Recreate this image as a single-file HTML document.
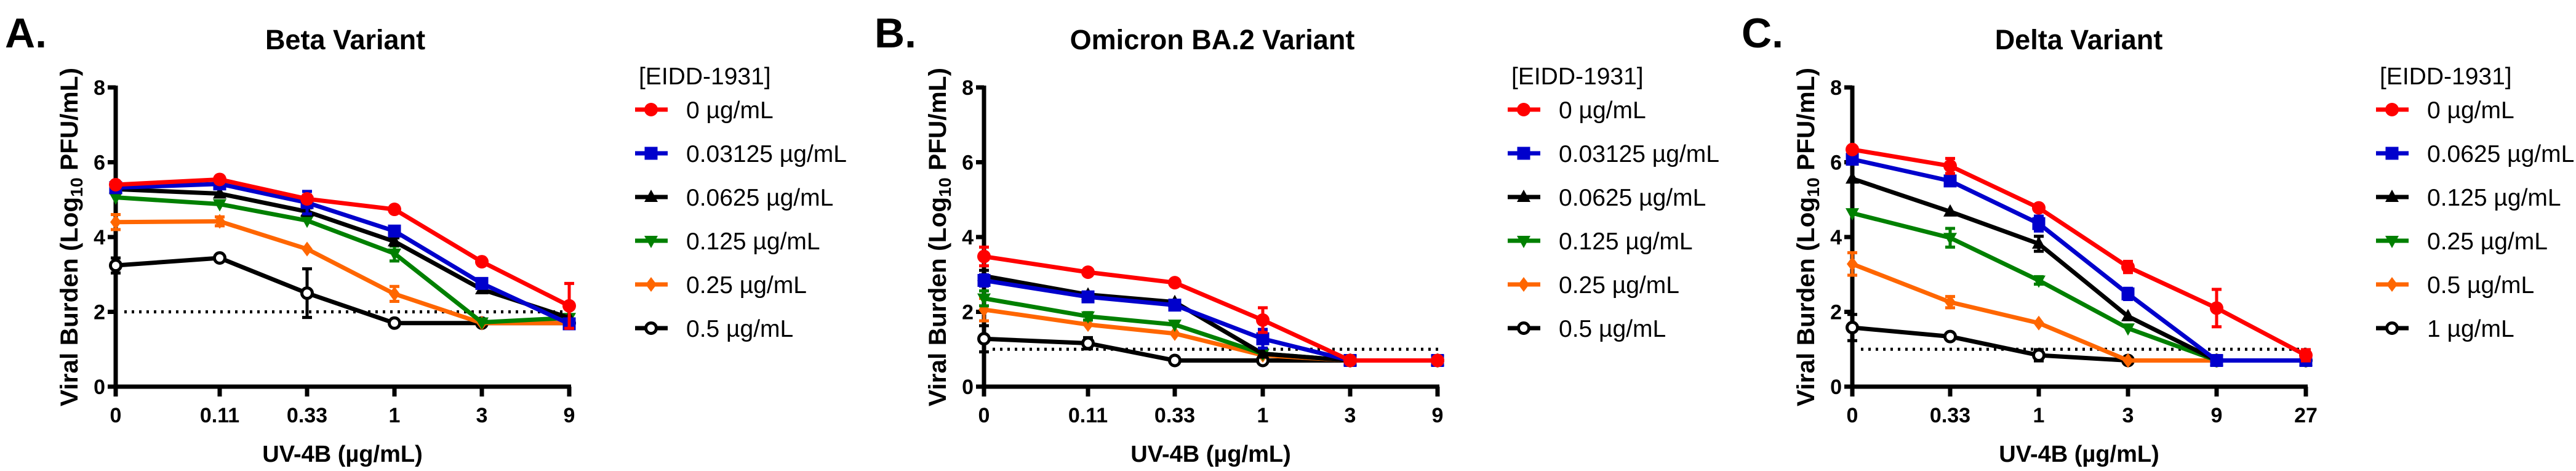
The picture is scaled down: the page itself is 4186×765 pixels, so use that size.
<!DOCTYPE html>
<html><head><meta charset="utf-8"><style>
html,body{margin:0;padding:0;background:#fff;}
svg{display:block;font-family:"Liberation Sans",Arial,sans-serif;}
</style></head><body>
<svg id="fig" width="4186" height="765" viewBox="0 0 4186 765" xmlns="http://www.w3.org/2000/svg"></svg>
<script>
// ---- shared data ----
const yTicks = [0, 2, 4, 6, 8];
const colors = ["#ff0000", "#0000cc", "#000000", "#008000", "#ff6600", "#000000"];
const markers = ["circle", "square", "triUp", "triDown", "diamond", "open"];

// ---- Panel A: Beta ----
const catsA = ["0", "0.11", "0.33", "1", "3", "9"];
const legendA = ["0 µg/mL", "0.03125 µg/mL", "0.0625 µg/mL", "0.125 µg/mL", "0.25 µg/mL", "0.5 µg/mL"];
const a0 = [5.4, 5.54, 5.02, 4.74, 3.34, 2.16];
const a1 = [5.32, 5.42, 4.92, 4.16, 2.76, 1.68];
const a2 = [5.28, 5.16, 4.68, 3.88, 2.6, 1.84];
const a3 = [5.06, 4.88, 4.44, 3.56, 1.72, 1.84];
const a4 = [4.4, 4.42, 3.68, 2.48, 1.7, 1.7];
const a5 = [3.24, 3.44, 2.5, 1.7, 1.7, 1.7];
const a0e = [0.05, 0.05, 0.1, 0.05, 0.05, 0.6];
const a1e = [0.05, 0.05, 0.3, 0.1, 0.1, 0.1];
const a2e = [0.05, 0.05, 0.1, 0.1, 0.05, 0.05];
const a3e = [0.05, 0.05, 0.05, 0.2, 0.05, 0.05];
const a4e = [0.2, 0.12, 0.05, 0.2, 0.05, 0.05];
const a5e = [0.2, 0.05, 0.65, 0.05, 0.05, 0.05];
const lodA = 2;

// ---- Panel B: Omicron BA.2 ----
const catsB = ["0", "0.11", "0.33", "1", "3", "9"];
const legendB = ["0 µg/mL", "0.03125 µg/mL", "0.0625 µg/mL", "0.125 µg/mL", "0.25 µg/mL", "0.5 µg/mL"];
const b0 = [3.48, 3.06, 2.78, 1.78, 0.7, 0.7];
const b1 = [2.84, 2.4, 2.18, 1.28, 0.7, 0.7];
const b2 = [2.96, 2.46, 2.26, 0.88, 0.7, 0.7];
const b3 = [2.36, 1.88, 1.66, 0.88, 0.7, 0.7];
const b4 = [2.06, 1.66, 1.42, 0.84, 0.7, 0.7];
const b5 = [1.28, 1.16, 0.7, 0.7, 0.7, 0.7];
const b0e = [0.25, 0.05, 0.05, 0.33, 0.05, 0.05];
const b1e = [0.15, 0.1, 0.1, 0.25, 0.05, 0.05];
const b2e = [0.15, 0.05, 0.05, 0.05, 0.05, 0.05];
const b3e = [0.2, 0.1, 0.05, 0.05, 0.05, 0.05];
const b4e = [0.3, 0.05, 0.05, 0.05, 0.05, 0.05];
const b5e = [0.35, 0.15, 0.05, 0.05, 0.05, 0.05];
const lodB = 1;

// ---- Panel C: Delta ----
const catsC = ["0", "0.33", "1", "3", "9", "27"];
const legendC = ["0 µg/mL", "0.0625 µg/mL", "0.125 µg/mL", "0.25 µg/mL", "0.5 µg/mL", "1 µg/mL"];
const c0 = [6.34, 5.9, 4.78, 3.2, 2.1, 0.84];
const c1 = [6.08, 5.5, 4.36, 2.48, 0.7, 0.7];
const c2 = [5.56, 4.68, 3.82, 1.88, 0.7, 0.7];
const c3 = [4.64, 3.98, 2.84, 1.56, 0.7, 0.7];
const c4 = [3.28, 2.26, 1.7, 0.7, 0.7, 0.7];
const c5 = [1.58, 1.34, 0.84, 0.7, 0.7, 0.7];
const c0e = [0.05, 0.2, 0.05, 0.15, 0.5, 0.15];
const c1e = [0.05, 0.05, 0.2, 0.15, 0.05, 0.05];
const c2e = [0.05, 0.05, 0.2, 0.05, 0.05, 0.05];
const c3e = [0.05, 0.25, 0.1, 0.05, 0.05, 0.05];
const c4e = [0.3, 0.15, 0.05, 0.05, 0.05, 0.05];
const c5e = [0.35, 0.05, 0.15, 0.05, 0.05, 0.05];
const lodC = 1;

const NS = "http://www.w3.org/2000/svg";
const svg = document.getElementById("fig");
function mk(tag, attrs, parent) {
  const e = document.createElementNS(NS, tag);
  for (const k in attrs) e.setAttribute(k, attrs[k]);
  (parent || svg).appendChild(e);
  return e;
}
const Y0 = 628, UNIT = 60.75;
function yScale(v) { return Y0 - v * UNIT; }

function marker(g, type, x, y, col) {
  let m;
  if (type === "circle") m = mk("circle", {cx: x, cy: y, r: 11, fill: col}, g);
  else if (type === "square") m = mk("rect", {x: x - 10.5, y: y - 10.5, width: 21, height: 21, fill: col}, g);
  else if (type === "triUp") m = mk("polygon", {points: `${x},${y-12} ${x+11},${y+8} ${x-11},${y+8}`, fill: col}, g);
  else if (type === "triDown") m = mk("polygon", {points: `${x},${y+12} ${x+11},${y-8} ${x-11},${y-8}`, fill: col}, g);
  else if (type === "diamond") m = mk("polygon", {points: `${x},${y-12} ${x+9},${y} ${x},${y+12} ${x-9},${y}`, fill: col}, g);
  else m = mk("circle", {cx: x, cy: y, r: 8.5, fill: "#fff", stroke: col, "stroke-width": 5}, g);
  
  
}

function panel(p) {
  const g = mk("g", {});
  
  
  const xs = p.ticksX;
  const xScale = i => xs[i];
  // panel letter
  const L = mk("text", {x: p.letterX, y: 77, "font-size": 68, "font-weight": "bold"}, g);
  L.textContent = p.letter;
  
  
  const T = mk("text", {x: p.titleX, y: 80, "font-size": 45, "font-weight": "bold", "text-anchor": "middle"}, g);
  T.textContent = p.title;
  
  
  // y axis title
  const ax = xs[0];
  const YT = mk("text", {x: 0, y: 0, "font-size": 40, "font-weight": "bold", "text-anchor": "middle",
    transform: `translate(${ax - 62},385) rotate(-90)`, textLength: 550, lengthAdjust: "spacingAndGlyphs"}, g);
  YT.innerHTML = 'Viral Burden (Log<tspan font-size="28" dy="8">10</tspan><tspan dy="-8"> PFU/mL)</tspan>';
  
  
  // axes
  const yAx = mk("line", {x1: ax, y1: yScale(8) - 3, x2: ax, y2: Y0 + 3, stroke: "#000", "stroke-width": 7}, g);
  
  
  const xAx = mk("line", {x1: ax - 13, y1: Y0, x2: xs[xs.length - 1] + 3, y2: Y0, stroke: "#000", "stroke-width": 7}, g);
  
  
  yTicks.forEach(v => {
    const t = mk("line", {x1: ax - 13, y1: yScale(v), x2: ax, y2: yScale(v), stroke: "#000", "stroke-width": 7}, g);
    
    
    const tl = mk("text", {x: ax - 17, y: yScale(v) + 12, "font-size": 34, "font-weight": "bold", "text-anchor": "end"}, g);
    tl.textContent = v;
    
    
  });
  p.cats.forEach((c, i) => {
    const t = mk("line", {x1: xScale(i), y1: Y0, x2: xScale(i), y2: Y0 + 16, stroke: "#000", "stroke-width": 7}, g);
    
    
    const tl = mk("text", {x: xScale(i), y: 686, "font-size": 34, "font-weight": "bold", "text-anchor": "middle"}, g);
    tl.textContent = c;
    
    
  });
  const XT = mk("text", {x: (xs[0] + xs[5]) / 2, y: 750, "font-size": 38, "font-weight": "bold", "text-anchor": "middle"}, g);
  XT.textContent = "UV-4B (µg/mL)";
  
  
  // LOD
  const lod = mk("line", {x1: ax + 14, y1: yScale(p.lod), x2: xs[5] + 4, y2: yScale(p.lod), stroke: "#000", "stroke-width": 5, "stroke-dasharray": "4 8"}, g);
  
  
  // series (draw last first so red on top)
  for (let s = p.series.length - 1; s >= 0; s--) {
    const vals = p.series[s], errs = p.errs[s], col = colors[s];
    const sg = mk("g", {}, g);
    
    
    vals.forEach((v, i) => {
      const e = errs[i];
      if (e > 0.08) {
        const eb = mk("path", {d: `M${xScale(i)},${yScale(v+e)}V${yScale(v-e)}M${xScale(i)-8},${yScale(v+e)}h16M${xScale(i)-8},${yScale(v-e)}h16`, stroke: col, "stroke-width": 5, fill: "none"}, sg);
        
        
      }
    });
    const pts = vals.map((v, i) => `${xScale(i)},${yScale(v)}`).join(" ");
    const pl = mk("polyline", {points: pts, fill: "none", stroke: col, "stroke-width": 7, "stroke-linejoin": "round"}, sg);
    
    
    vals.forEach((v, i) => marker(sg, markers[s], xScale(i), yScale(v), col));
  }
  // legend
  const lg = mk("g", {}, g);
  
  
  const lh = mk("text", {x: p.legX + 6, y: 137, "font-size": 39}, lg);
  lh.textContent = "[EIDD-1931]";
  
  
  p.legend.forEach((txt, s) => {
    const y = 178 + s * 71;
    const le = mk("g", {}, lg);
    
    
    mk("line", {x1: p.legX, y1: y, x2: p.legX + 53, y2: y, stroke: colors[s], "stroke-width": 7}, le);
    marker(le, markers[s], p.legX + 26, y, colors[s]);
    const t = mk("text", {x: p.legX + 83, y: y + 14, "font-size": 39}, le);
    t.textContent = txt;
  });
}

panel({id: "a", letter: "A.", letterX: 8, title: "Beta Variant", titleX: 561, ticksX: [188, 357, 499, 641, 783, 925],
  cats: catsA, legend: legendA, series: [a0, a1, a2, a3, a4, a5], errs: [a0e, a1e, a2e, a3e, a4e, a5e], lod: lodA, legX: 1032});
panel({id: "b", letter: "B.", letterX: 1421, title: "Omicron BA.2 Variant", titleX: 1970, ticksX: [1599, 1768, 1909, 2052, 2194, 2336],
  cats: catsB, legend: legendB, series: [b0, b1, b2, b3, b4, b5], errs: [b0e, b1e, b2e, b3e, b4e, b5e], lod: lodB, legX: 2450});
panel({id: "c", letter: "C.", letterX: 2830, title: "Delta Variant", titleX: 3378, ticksX: [3010, 3169, 3313, 3458, 3602, 3747],
  cats: catsC, legend: legendC, series: [c0, c1, c2, c3, c4, c5], errs: [c0e, c1e, c2e, c3e, c4e, c5e], lod: lodC, legX: 3861});
</script>
</body></html>
